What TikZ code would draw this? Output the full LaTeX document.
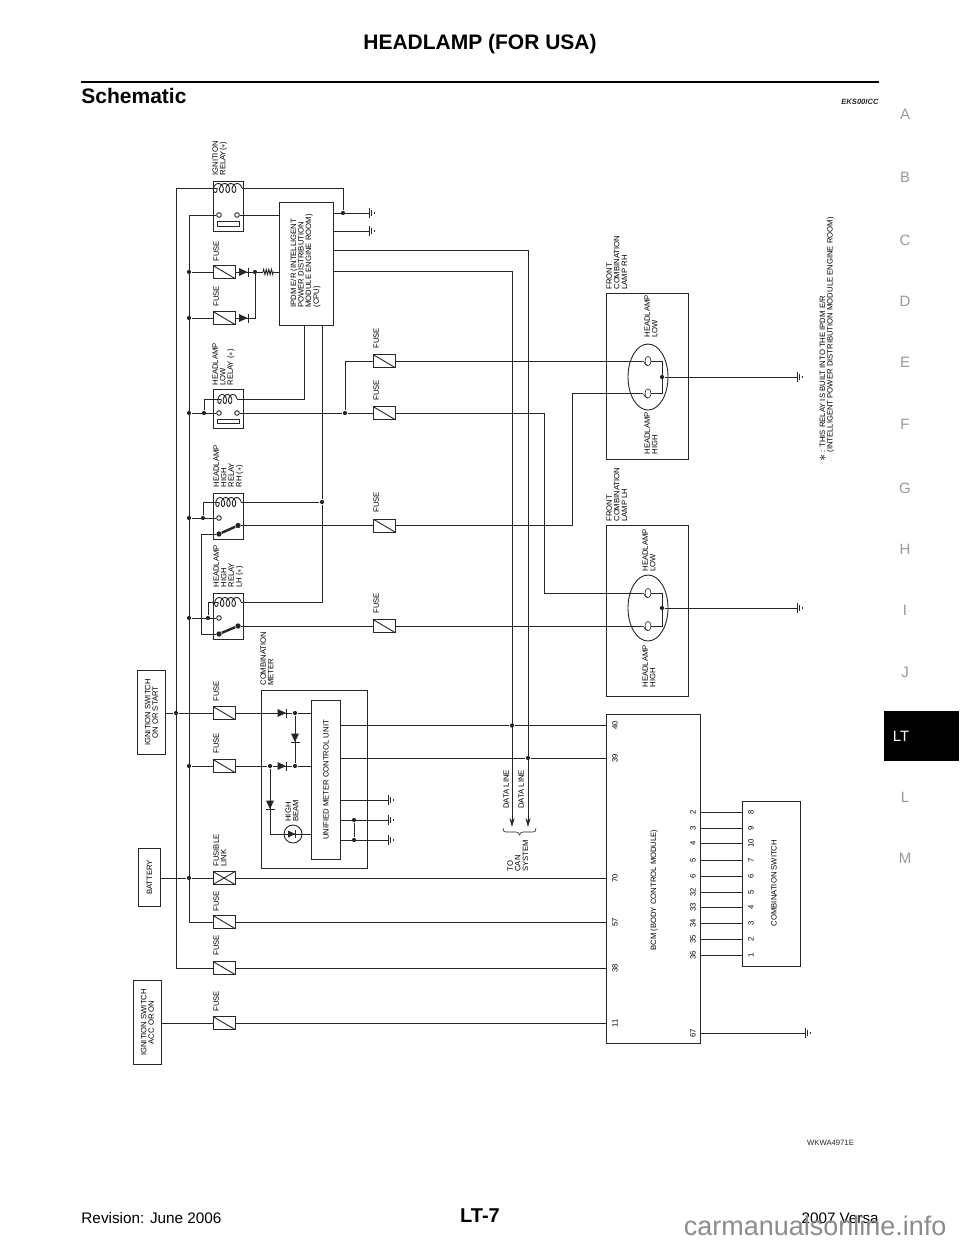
\documentclass[tikz,border=0pt]{standalone}
\usepackage{fontspec}
\setmainfont{Liberation Sans}
\usetikzlibrary{arrows.meta,calc,decorations.pathmorphing}
\newcommand{\lblfont}{\fontsize{7.7}{7.6}\selectfont}

\begin{document}
\begin{tikzpicture}[x=1pt,y=-1pt,line width=0.9pt,color=black!85]
\tikzset{>={Stealth[length=9pt,width=5pt]},
box/.style={draw,rectangle,inner sep=0pt,anchor=north west},
fuse/.style={draw,rectangle,inner sep=0pt,minimum width=22pt,minimum height=13pt,path picture={\draw (path picture bounding box.north west) -- (path picture bounding box.south east);}},
fusible/.style={fuse,path picture={\draw (path picture bounding box.north west) -- (path picture bounding box.south east) (path picture bounding box.south west) -- (path picture bounding box.north east);}},
jdot/.style={fill,circle,inner sep=0pt,minimum size=4.2pt},
cont/.style={draw,circle,inner sep=0pt,minimum size=4.6pt},
lbl/.style={rotate=90,anchor=north west,align=left,inner sep=0pt,font=\lblfont,text=black},
mid/.style={rotate=90,align=center,inner sep=0pt,font=\lblfont,text=black},
tab/.style={font=\fontsize{15}{15}\selectfont,text=black!40},
coilp/.pic={\pgfmathsetmacro\coilend{#1*360}
  \draw[smooth,samples=61,domain=0:\coilend,variable=\t] plot ({6*\t/360+3.2*cos(\t)-3.2},{4.5*sin(\t)});},
gnd/.pic={\draw (0,-5) -- (0,5); \draw[line width=0.6pt] (2.5,-3) -- (2.5,3) (5,-1.3) -- (5,1.3);},
diode/.pic={\fill (-4.5,-4) -- (-4.5,4) -- (4,0) -- cycle; \draw (4.5,-4.5) -- (4.5,4.5);},
bulb/.pic={\draw[line width=0.6pt] (0,0) ellipse (3 and 4.6); \draw[line width=0.6pt] (-6,0) .. controls (-3,0) and (-4,4.6) .. (0,4.6);}
}
\useasboundingbox (0,0) rectangle (960,1242);

% page furniture
\node[font=\bfseries\fontsize{21}{20}\selectfont,text=black] (title) at (480,44.5) {HEADLAMP (FOR USA)};
\draw[line width=2.4pt,black] (81,82) -- (879,82);
\node[anchor=west,inner sep=0pt,font=\bfseries\fontsize{21}{21}\selectfont,text=black] (sect) at (81,96) {Schematic};
\node[anchor=east,inner sep=0pt,font=\bfseries\itshape\fontsize{7.6}{8}\selectfont] (code) at (879,102) {EKS00ICC};
\foreach \t/\y in {A/114,B/177,C/240,D/301,E/362,F/424,G/488,H/549,I/610,J/672,L/797,M/858}
  \node[tab] (tab\t) at (905,\y) {\t};
\fill[black] (884,711) rectangle (959,761);
\node[font=\fontsize{15}{15}\selectfont,text=white] (tabLT) at (901,736) {LT};
\node[anchor=west,inner sep=0pt,font=\fontsize{15.3}{15}\selectfont,text=black] (rev) at (81,1218) {Revision: June 2006};
\node[inner sep=0pt,font=\bfseries\fontsize{20}{20}\selectfont,text=black] (pageno) at (480,1216) {LT-7};
\node[anchor=east,inner sep=0pt,font=\fontsize{15.2}{15}\selectfont,text=black] (model) at (879,1218) {2007 Versa};
\node[anchor=east,inner sep=0pt,font=\fontsize{27}{27}\selectfont,text=black!45] (mark) at (947,1226) {carmanualsonline.info};
\node[inner sep=0pt,font=\fontsize{7.7}{8}\selectfont] (wk) at (830.5,1143) {WKWA4971E};

% boxes
\node[box,minimum width=30pt,minimum height=50pt] (ign) at (213,181) {};
\node[box,minimum width=30pt,minimum height=39pt] (low) at (213,389) {};
\node[box,minimum width=30pt,minimum height=46pt] (rh) at (213,493) {};
\node[box,minimum width=30pt,minimum height=46pt] (lh) at (213,593) {};
\node[box,minimum width=54pt,minimum height=123pt] (ipdm) at (279,202) {};
\node[box,minimum width=106pt,minimum height=178pt] (meter) at (261,690) {};
\node[box,minimum width=29pt,minimum height=159pt] (unit) at (311,700) {};
\node[box,minimum width=94pt,minimum height=329pt] (bcm) at (606,714) {};
\node[box,minimum width=58pt,minimum height=165pt] (cosw) at (742,801) {};
\node[box,minimum width=82pt,minimum height=166pt] (lamprh) at (606,293) {};
\node[box,minimum width=82pt,minimum height=171pt] (lamplh) at (606,525) {};
\node[box,minimum width=28pt,minimum height=84pt] (swon) at (137,670) {};
\node[box,minimum width=22pt,minimum height=58pt] (batt) at (138,848) {};
\node[box,minimum width=28pt,minimum height=84pt] (swacc) at (133,980) {};
\node[mid] at (swon) {IGNITION SWITCH\\ON OR START};
\node[mid] at (batt) {BATTERY};
\node[mid] at (swacc) {IGNITION SWITCH\\ACC OR ON};
\node[mid] at (unit) {UNIFIED METER CONTROL UNIT};
\node[mid] at (654,890) {BCM (BODY CONTROL MODULE)};
\node[mid] at (774,883) {COMBINATION SWITCH};

% fuses
\foreach \n/\x/\y in {fa/224/272,fb/224/318,fc/224/713,fd/224/766,fe/224/922,ff/224/968,fg/224/1023,fh/384/361,fi/384/413,fj/384/525.5,fk/384/626}
  \node[fuse] (\n) at (\x,\y) {};
\node[fusible] (flink) at (224,878) {};

% rails
\coordinate (ra) at (176,188);
\coordinate (rb) at (189,215);
\foreach \y in {272,318,413,518,618,766,878}
  \node[jdot] (rb\y) at (189,\y) {};
\node[jdot] (ra713) at (176,713) {};
\draw (ra) -- (ra |- ff) -- (ff);
\draw (rb) -- (rb |- fe) -- (fe);

% ignition relay
\coordinate (ca) at (217,188);
\coordinate (cb) at (242,188);
\node[cont] (ka) at (219,215) {};
\node[cont] (kb) at (237,215) {};
\node[jdot] (ja) at (343,213) {};
\draw (ra) -- (ca);
\pic[xscale=1.04] at (ca) {coilp=4};
\draw (cb) -- (ja |- cb) -- (ja);
\draw (rb) -- (ka);
\draw (kb) -- (kb -| ipdm.west);
\draw (217,221) rectangle (239,226);
\coordinate (ga) at (369,213);
\coordinate (gb) at (369,231);
\draw (ja -| ipdm.east) -- (ga);
\draw (gb -| ipdm.east) -- (gb);
\pic at (ga) {gnd};
\pic at (gb) {gnd};

% ipdm inputs
\coordinate (jc) at (255,272);
\node[jdot] at (jc) {};
\coordinate (jd) at (255,318);
\draw (rb272) -- (fa);
\draw (rb318) -- (fb);
\draw (fa) -- (jc);
\draw (fb) -- (jd) -- (jc);
\pic at (243.5,272) {diode};
\pic at (243.5,318) {diode};
\draw (jc) -- (263,272);
\draw[decorate,decoration={zigzag,segment length=2.6pt,amplitude=2.6pt}] (263,272) -- (274,272);
\draw (274,272) -- (ipdm.west |- jc);

% data lines
\node[jdot] (je) at (512,725.5) {};
\node[jdot] (jf) at (528,758) {};
\coordinate (ta) at (512,827);
\coordinate (tb) at (528,827);
\draw[->] (333,250) -- (528,250) -- (tb);
\draw[->] (333,271) -- (512,271) -- (ta);
\draw (unit.east |- je) -- (je) -- (je -| bcm.west);
\draw (unit.east |- jf) -- (jf) -- (jf -| bcm.west);
\draw[line width=0.6pt] (503,828) .. controls (503,831) and (504,832) .. (506,832) -- (516,832) .. controls (518,832) and (519,833) .. (519.5,835) .. controls (520,833) and (521,832) .. (523,832) -- (533,832) .. controls (535,832) and (536,831) .. (536,828);

% low relay
\node[jdot] (jg) at (204,413) {};
\node[cont] (kc) at (219,413) {};
\node[cont] (kd) at (237,413) {};
\node[jdot] (jh) at (345,413) {};
\coordinate (cc) at (221,399);
\coordinate (cd) at (237,399);
\draw (jg) -- (jg |- cc) -- (cc);
\pic[xscale=0.89] at (cc) {coilp=3};
\draw (cd) -- (304,399) -- (304,325);
\draw (rb413) -- (kc);
\draw (kd) -- (jh) -- (fi);
\draw (jh) -- (jh |- fh) -- (fh);
\draw (217,419) rectangle (239,423);

% high relays
\node[jdot] (ji) at (322,502) {};
\node[jdot] (jj) at (203,518) {};
\node[jdot] (jk) at (208,618) {};
\node[cont] (ke) at (219,518) {};
\node[cont] (kf) at (219,618) {};
\node[jdot,minimum size=5.4pt] (sa) at (219,534) {};
\node[jdot,minimum size=5.4pt] (sb) at (238,525.5) {};
\node[jdot,minimum size=5.4pt] (sc) at (219,634) {};
\node[jdot,minimum size=5.4pt] (sd) at (238,626) {};
\coordinate (ce) at (219,502);
\coordinate (cf) at (241,502);
\coordinate (cg) at (218,602);
\coordinate (ch) at (241,602);
\draw (rb518) -- (ke);
\draw (rb618) -- (kf);
\draw (jj) -- (jj |- ce) -- (ce);
\draw (jk) -- (jk |- cg) -- (cg);
\pic[xscale=0.92] at (ce) {coilp=4};
\pic[xscale=0.96] at (cg) {coilp=4};
\draw (cf) -- (ji);
\draw (ch) -- (322,602) -- (ji) -- (322,325);
\draw[line width=2.4pt] (sa) -- (sb);
\draw[line width=2.4pt] (sc) -- (sd);
\draw (sa) -- (201,534) -- (201,634) -- (sc);
\draw (sb) -- (fj);
\draw (sd) -- (fk);

% to the lamps
\draw (fh) -- (642,361);
\draw (fi) -- (544,413) -- (544,593) -- (642,593);
\draw (fj) -- (572,525.5) -- (572,393.5) -- (642,393.5);
\draw (fk) -- (642,626);
\foreach \n/\a/\b/\c in {rh/361/393.5/377,lh/593/626/608}{
  \draw (648,\c) ellipse (20 and 33);
  \pic at (648,\a) {bulb};
  \pic at (648,\b) {bulb};
  \node[jdot] (lj\n) at (662,\c) {};
  \coordinate (lg\n) at (797,\c);
  \draw (651,\a) -- (662,\a) -- (662,\b) -- (651,\b);
  \draw (lj\n) -- (lg\n);
  \pic at (lg\n) {gnd};
}

% meter
\node[jdot] (jl) at (295,713) {};
\node[jdot] (jm) at (295,766) {};
\node[jdot] (jn) at (270,766) {};
\node[draw,circle,inner sep=0pt,minimum size=18pt] (hb) at (293,834) {};
\draw (swon.east |- fc) -- (ra713) -- (fc);
\draw (fc) -- (jl) -- (jl -| unit.west);
\draw (rb766) -- (fd);
\draw (fd) -- (jn) -- (jm) -- (jm -| unit.west);
\draw (jl) -- (jm);
\draw (jn) -- (jn |- hb) -- (hb);
\draw (hb.west) -- (hb.east);
\draw (hb) -- (hb -| unit.west);
\pic at (282,713) {diode};
\pic at (282,766) {diode};
\pic[rotate=-90] at (295,738) {diode};
\pic[rotate=-90] at (270,805) {diode};
\pic[scale=0.85] at (292,834) {diode};
\node[jdot] (jo) at (354,820) {};
\node[jdot] (jp) at (354,840) {};
\foreach \n/\y in {gc/800,gd/820,ge/840}{
  \coordinate (\n) at (388,\y);
  \draw (unit.east |- \n) -- (\n);
  \pic at (\n) {gnd};
}
\draw (jo) -- (jp);

% supply to the bcm
\draw (batt.east |- flink) -- (rb878) -- (flink);
\draw (flink) -- (flink -| bcm.west);
\draw (fe) -- (fe -| bcm.west);
\draw (ff) -- (ff -| bcm.west);
\draw (swacc.east |- fg) -- (fg);
\draw (fg) -- (fg -| bcm.west);
\coordinate (gf) at (805,1033);
\draw (gf -| bcm.east) -- (gf);
\pic at (gf) {gnd};

% pins
\foreach \t/\y in {40/725.5,39/758,70/878,57/922,38/968,11/1023}
  \node[mid] (p\t) at (615,\y) {\t};
\node[mid] (p67) at (693,1033) {67};
\foreach \a/\b/\y in {2/8/812,3/9/828,4/10/843,5/7/860,6/6/876,32/5/892,33/4/907,34/3/923,35/2/939,36/1/955}{
  \node[mid] (pa\a) at (693,\y) {\a};
  \node[mid] (pb\b) at (751,\y) {\b};
  \draw (bcm.east |- pa\a) -- (cosw.west |- pa\a);
}

% labels
\foreach \x/\y/\t in {
  212/176/{IGNITION\\RELAY($\ast$)},
  213/262/FUSE, 213/307/FUSE,
  212/386/{HEADLAMP\\LOW\\RELAY ($\ast$)},
  213/488/{HEADLAMP\\HIGH\\RELAY\\RH ($\ast$)},
  213/588/{HEADLAMP\\HIGH\\RELAY\\LH ($\ast$)},
  213/702/FUSE, 213/754/FUSE, 213/867/{FUSIBLE\\LINK},
  213/912/FUSE, 213/956/FUSE, 213/1012/FUSE,
  373/349/FUSE, 373/401/FUSE, 373/513/FUSE, 373/614/FUSE,
  290/308/{IPDM E/R (INTELLIGENT\\POWER DISTRIBUTION\\MODULE ENGINE ROOM)\\(CPU)},
  260/686/{COMBINATION\\METER},
  285/822/{HIGH\\BEAM},
  503/809/DATA LINE, 518/809/DATA LINE,
  507/872/{TO\\CAN\\SYSTEM},
  606/290/{FRONT\\COMBINATION\\LAMP RH},
  606/522/{FRONT\\COMBINATION\\LAMP LH},
  644/338/{HEADLAMP\\LOW}, 644/455/{HEADLAMP\\HIGH},
  642/572/{HEADLAMP\\LOW}, 642/688/{HEADLAMP\\HIGH},
  819/453/{: THIS RELAY IS BUILT INTO THE IPDM E/R\\(INTELLIGENT POWER DISTRIBUTION MODULE ENGINE ROOM)}}
  \node[lbl] at (\x,\y) {\t};
\node[rotate=90,inner sep=0pt,font=\fontsize{14}{14}\selectfont,text=black] (star) at (823,458) {$\ast$};
\end{tikzpicture}
\end{document}
